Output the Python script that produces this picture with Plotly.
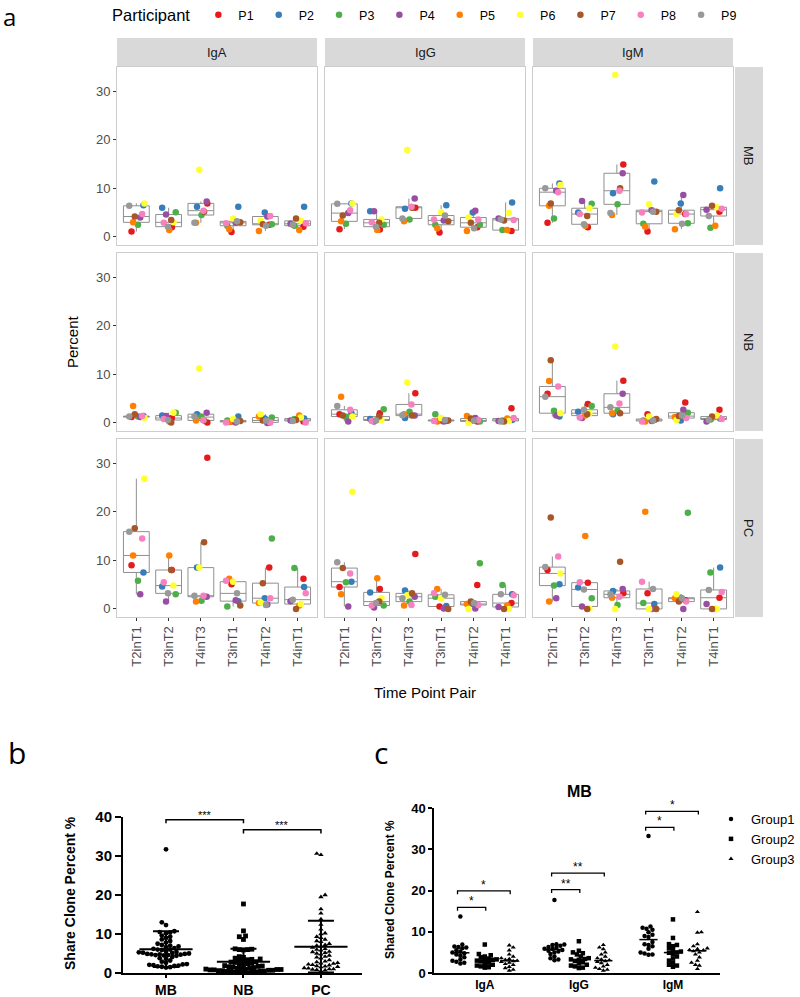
import numpy as np
import plotly.graph_objects as go

W, H = 800, 997
FONT = "Liberation Sans, Arial, sans-serif"

# ---------------- data: panel a ----------------
participants = ["P1", "P2", "P3", "P4", "P5", "P6", "P7", "P8", "P9"]
colors = ["#E41A1C", "#377EB8", "#4DAF4A", "#984EA3", "#FF7F00",
          "#FFFF33", "#A65628", "#F781BF", "#999999"]
pairs = ["T2inT1", "T3inT2", "T4inT3", "T3inT1", "T4inT2", "T4inT1"]
isotypes = ["IgA", "IgG", "IgM"]
cell_types = ["MB", "NB", "PC"]

# each row = one time point pair, columns = P1..P9
MB_IgA = [[1.1, 6.5, 2.5, 4.0, 3.0, 6.9, 4.2, 4.7, 6.4],
          [2.0, 6.0, 5.1, 4.6, 1.4, 3.0, 3.5, 2.9, 2.1],
          [6.9, 6.2, 4.5, 7.3, 2.9, 13.8, 5.2, 5.4, 2.9],
          [1.0, 6.2, 2.3, 2.9, 1.6, 3.8, 3.0, 2.8, 3.2],
          [2.5, 5.0, 2.6, 4.2, 1.2, 3.3, 2.6, 4.3, 2.3],
          [2.1, 6.2, 2.3, 2.7, 1.4, 3.3, 3.8, 2.8, 2.5]]
MB_IgG = [[1.6, 6.9, 2.7, 4.9, 3.2, 6.9, 4.4, 5.5, 6.8],
          [1.5, 5.3, 2.5, 5.3, 1.4, 3.6, 2.9, 3.0, 2.1],
          [6.0, 5.8, 3.6, 7.9, 3.2, 17.9, 6.0, 6.2, 3.8],
          [0.9, 6.5, 2.5, 3.4, 1.8, 5.1, 3.2, 3.6, 4.4],
          [2.0, 5.0, 2.5, 5.4, 1.2, 4.0, 2.9, 3.6, 1.8],
          [1.2, 7.1, 1.4, 3.8, 1.4, 4.9, 3.4, 3.5, 3.6]]
MB_IgM = [[2.9, 11.0, 3.8, 9.5, 6.4, 10.7, 6.9, 9.2, 10.0],
          [2.0, 5.0, 6.8, 7.4, 2.3, 5.9, 4.3, 4.7, 2.6],
          [14.9, 9.0, 6.7, 13.1, 4.5, 33.3, 10.0, 9.5, 4.9],
          [1.1, 11.4, 2.7, 5.5, 2.1, 6.7, 5.2, 5.0, 5.2],
          [4.7, 6.9, 2.8, 8.6, 1.6, 4.7, 5.5, 4.7, 2.7],
          [5.2, 10.0, 1.9, 5.6, 2.3, 6.1, 6.4, 5.8, 4.3]]
NB_IgA = [[1.2, 1.4, 1.3, 1.2, 3.5, 1.0, 1.8, 1.4, 1.3],
          [1.0, 1.5, 2.1, 1.4, 0.3, 2.1, 0.1, 0.8, 0.6],
          [0.1, 1.8, 1.2, 2.1, 0.5, 11.2, 0.5, 0.6, 1.3],
          [0.3, 1.3, 0.5, 0.1, 0.2, 0.8, 0.4, 0.1, 0.3],
          [0.1, 0.9, 1.1, 0.0, 1.3, 1.8, 0.5, 0.1, 0.5],
          [0.3, 0.9, 0.8, 0.5, 1.5, 1.1, 0.6, 0.1, 0.4]]
NB_IgG = [[1.8, 2.0, 1.2, 0.3, 5.4, 1.3, 1.5, 2.7, 3.5],
          [2.0, 0.8, 2.8, 0.3, 0.7, 0.6, 1.3, 0.4, 0.5],
          [6.1, 1.0, 2.3, 1.5, 1.8, 8.3, 1.5, 3.8, 1.6],
          [0.5, 0.4, 1.8, 0.3, 0.3, 1.0, 0.5, 0.4, 0.6],
          [0.3, 0.5, 0.3, 1.0, 1.4, 0.0, 0.9, 0.6, 0.5],
          [3.0, 0.6, 0.5, 0.4, 0.9, 0.4, 0.3, 1.0, 0.3]]
NB_IgM = [[6.0, 1.3, 2.5, 1.5, 8.6, 2.0, 12.9, 7.5, 5.4],
          [3.9, 2.3, 3.5, 1.0, 1.5, 2.0, 1.8, 1.1, 2.7],
          [8.7, 1.8, 2.5, 6.0, 2.0, 15.7, 2.0, 4.0, 3.2],
          [1.8, 0.6, 0.5, 0.4, 0.3, 1.3, 0.8, 0.3, 0.5],
          [4.2, 0.5, 2.1, 2.7, 1.2, 0.6, 1.4, 1.0, 1.5],
          [2.7, 0.9, 0.7, 0.3, 1.2, 1.5, 1.3, 0.8, 0.6]]
PC_IgA = [[9.0, 7.5, 5.8, 3.0, 11.0, 26.8, 16.6, 14.5, 15.9],
          [8.0, 4.6, 3.0, 1.5, 11.0, 4.8, 8.0, 5.5, 3.2],
          [31.1, 8.5, 1.7, 2.5, 1.5, 8.5, 13.7, 2.7, 2.7],
          [5.1, 1.6, 0.5, 1.8, 6.2, 5.6, 0.7, 5.8, 3.2],
          [8.5, 2.2, 14.5, 0.9, 1.2, 1.3, 5.3, 2.2, 0.8],
          [6.2, 4.5, 8.4, 1.6, 0.7, 1.0, 0.0, 3.2, 1.9]]
PC_IgG = [[4.5, 5.6, 5.5, 0.5, 3.0, 24.1, 8.4, 7.3, 9.6],
          [4.1, 3.4, 0.7, 0.3, 6.3, 2.2, 1.5, 0.7, 1.2],
          [11.3, 3.8, 1.5, 2.5, 0.7, 2.8, 3.2, 0.8, 2.2],
          [0.5, 0.6, 2.5, 0.1, 4.1, 2.2, 0.0, 3.2, 2.9],
          [4.9, 1.0, 9.4, 0.1, 1.0, 0.0, 1.5, 0.8, 1.2],
          [1.2, 3.0, 4.9, 0.4, 0.7, 0.0, 0.0, 2.8, 3.0]]
PC_IgM = [[8.0, 5.1, 4.8, 2.2, 1.5, 7.3, 18.8, 10.8, 8.6],
          [5.4, 4.4, 2.2, 0.5, 15.0, 0.1, 0.0, 5.5, 4.0],
          [3.2, 3.7, 0.8, 4.1, 2.3, 0.0, 9.7, 2.5, 3.0],
          [3.2, 1.0, 1.2, 0.0, 20.0, 0.0, 0.0, 5.6, 4.1],
          [1.8, 2.3, 19.8, 0.0, 2.2, 3.0, 1.5, 1.5, 2.2],
          [2.3, 8.5, 7.5, 1.0, 0.0, 0.0, 0.0, 3.5, 3.9]]

# ---------------- data: panel b ----------------
b_categories = ["MB", "NB", "PC"]
b_MB = [31.7, 13.0, 12.3, 10.7, 10.5, 10.4, 10.2, 9.6, 9.3, 9.0,
        8.6, 8.2, 7.8, 7.5, 7.2, 7.0, 6.8, 6.6, 6.4, 6.2,
        6.0, 6.0, 5.9, 5.6, 5.4, 5.2, 5.0, 4.9, 4.9, 4.8,
        4.8, 4.7, 4.6, 4.6, 4.5, 4.4, 4.1, 3.8, 3.6, 3.2,
        2.9, 2.6, 2.3, 2.2, 2.1, 2.0, 1.9, 1.8, 1.7, 1.6,
        1.5, 1.4, 5.3, 5.1]
b_NB = [17.7, 10.8, 9.5, 9.3, 8.6, 6.2, 6.1, 6.0, 6.0, 5.9,
        4.2, 4.0, 3.8, 3.6, 3.5, 3.4, 3.2, 3.0, 2.9, 2.8,
        2.7, 2.5, 2.4, 2.2, 2.0, 1.9, 1.8, 1.7, 1.6, 1.5,
        1.4, 1.3, 1.2, 1.1, 1.0, 1.0, 0.9, 0.9, 0.8, 0.8,
        0.7, 0.7, 0.6, 0.6, 0.5, 0.5, 0.4, 0.4, 0.3, 0.3,
        0.2, 0.2, 0.1, 0.1]
b_PC = [30.6, 30.3, 20.0, 19.5, 16.4, 15.3, 13.8, 12.4, 11.2, 10.2,
        10.0, 9.3, 9.0, 8.6, 8.2, 8.0, 7.5, 7.2, 6.8, 6.2,
        6.0, 5.8, 5.4, 5.2, 5.0, 4.8, 4.2, 4.0, 3.8, 3.3,
        3.0, 2.8, 2.6, 2.5, 2.4, 2.2, 2.1, 2.0, 1.8, 1.7,
        1.6, 1.5, 1.3, 1.2, 1.0, 1.0, 0.9, 0.8, 0.7, 0.5,
        4.5, 5.5, 6.5, 7.0]
b_sig = [("MB", "NB", 39.3, "***"), ("NB", "PC", 36.7, "***")]

# ---------------- data: panel c ----------------
c_isotypes = ["IgA", "IgG", "IgM"]
c_groups = ["Group1", "Group2", "Group3"]
c_IgA_G1 = [13.7, 6.9, 6.4, 6.3, 6.2, 6.0, 5.5, 5.2, 5.0, 4.8, 4.5, 4.2, 3.8, 3.3, 3.0, 2.7, 2.5, 2.3]
c_IgA_G2 = [6.9, 4.6, 4.3, 4.0, 3.8, 3.5, 3.3, 3.2, 3.1, 3.0, 2.8, 2.5, 2.2, 2.0, 1.8, 1.6, 1.4, 1.3]
c_IgA_G3 = [6.7, 6.2, 5.5, 4.5, 4.0, 3.6, 3.4, 3.2, 3.0, 2.9, 2.7, 2.5, 2.2, 2.0, 1.5, 1.2, 0.8, 0.6]
c_IgG_G1 = [17.7, 7.0, 6.9, 6.8, 6.6, 6.3, 6.1, 5.9, 5.8, 5.6, 5.4, 5.2, 5.0, 4.6, 4.0, 3.6, 3.3, 3.1]
c_IgG_G2 = [7.7, 5.4, 5.0, 4.8, 4.5, 4.0, 3.6, 3.4, 3.3, 3.2, 2.9, 2.6, 2.3, 2.0, 1.8, 1.6, 1.3, 1.2]
c_IgG_G3 = [6.8, 6.2, 5.8, 5.0, 4.5, 4.0, 3.6, 3.3, 3.1, 2.9, 2.7, 2.4, 2.0, 1.6, 1.3, 1.0, 0.8, 0.6]
c_IgM_G1 = [33.2, 11.3, 11.0, 10.7, 10.5, 9.9, 9.3, 9.0, 8.7, 7.5, 7.0, 6.8, 6.5, 5.9, 5.0, 4.7, 4.5, 4.4]
c_IgM_G2 = [13.0, 8.5, 7.0, 6.8, 6.5, 6.0, 5.6, 5.2, 5.0, 4.9, 4.5, 4.0, 3.5, 3.0, 2.5, 2.0, 1.8, 1.5]
c_IgM_G3 = [14.8, 9.9, 9.8, 7.0, 6.5, 6.0, 5.8, 5.6, 5.5, 5.3, 5.0, 4.5, 3.8, 3.0, 2.5, 2.0, 1.8, 1.0]
c_sig = [("IgA", 0, 1, 15.9, "*"), ("IgA", 0, 2, 19.9, "*"),
         ("IgG", 0, 1, 20.2, "**"), ("IgG", 0, 2, 24.2, "**"),
         ("IgM", 0, 1, 35.3, "*"), ("IgM", 0, 2, 39.2, "*")]

# ---------------- layout helpers ----------------
JIT = [[-0.15, 0.10, 0.20, -0.05, 0.12, 0.18],
       [0.22, -0.20, -0.12, 0.16, -0.02, 0.20],
       [0.05, 0.22, 0.02, -0.18, 0.20, -0.10],
       [0.12, -0.08, 0.18, 0.08, 0.06, -0.22],
       [-0.10, 0.02, -0.15, -0.12, -0.20, 0.05],
       [0.25, 0.15, -0.05, 0.00, -0.15, 0.10],
       [-0.05, 0.08, 0.10, 0.22, -0.08, -0.05],
       [0.18, -0.15, 0.08, -0.22, 0.15, 0.25],
       [-0.22, -0.02, -0.20, 0.12, 0.02, -0.15]]


def xdom(a, b):
    return [a / W, b / W]


def ydom(top, bottom):
    return [1 - bottom / H, 1 - top / H]


def box_stats(v):
    v = np.asarray(v, float)
    q1, med, q3 = np.percentile(v, [25, 50, 75])
    iqr = q3 - q1
    lo = v[v >= q1 - 1.5 * iqr].min()
    hi = v[v <= q3 + 1.5 * iqr].max()
    return q1, med, q3, lo, hi


def swarm(vals, ypu, xpu, d):
    vals = np.asarray(vals, float)
    order = np.argsort(vals, kind="stable")
    placed = []
    off = np.zeros(len(vals))
    s = d * 0.55
    flip = True
    for i in order:
        y = vals[i] * ypu

        def free(x):
            return all((x - px) ** 2 + (y - py) ** 2 >= d * d for px, py in placed)
        if free(0.0):
            x = 0.0
        else:
            k = 1
            while True:
                a, b = k * s, -k * s
                fa, fb = free(a), free(b)
                if fa and fb:
                    x = a if flip else b
                    flip = not flip
                    break
                if fa:
                    x = a
                    break
                if fb:
                    x = b
                    break
                k += 1
        placed.append((x, y))
        off[i] = x / xpu
    return off


def axname(k, kind):
    return kind if k == 1 else f"{kind}{k}"


def ptext(text, px, py, size, angle=0, family=None, color="black", xanchor="center"):
    f = dict(size=size, color=color)
    if family:
        f["family"] = family
    return dict(text=text, x=px / W, y=1 - py / H, xref="paper", yref="paper",
                showarrow=False, xanchor=xanchor, yanchor="middle", textangle=angle,
                font=f)


fig = go.Figure()
layout = dict(width=W, height=H, margin=dict(l=0, r=0, t=0, b=0, autoexpand=False),
              paper_bgcolor="white", plot_bgcolor="white",
              font=dict(family=FONT, color="black"))
shapes, annotations = [], []

# ---------------- panel a ----------------
COLS = [(117, 317), (325, 525), (533, 733)]
ROWS = [(67, 245), (253, 431), (439, 617)]
data_a = {("MB", "IgA"): MB_IgA, ("MB", "IgG"): MB_IgG, ("MB", "IgM"): MB_IgM,
          ("NB", "IgA"): NB_IgA, ("NB", "IgG"): NB_IgG, ("NB", "IgM"): NB_IgM,
          ("PC", "IgA"): PC_IgA, ("PC", "IgG"): PC_IgG, ("PC", "IgM"): PC_IgM}
allv = np.concatenate([np.ravel(v) for v in data_a.values()])
span = allv.max() - allv.min()
yr_a = [allv.min() - 0.05 * span, allv.max() + 0.05 * span]
BORDER = "#CDCDCD"
xpos = list(range(1, len(pairs) + 1))

for r, ct in enumerate(cell_types):
    for c, iso in enumerate(isotypes):
        k = r * 3 + c + 1
        xa, ya = axname(k, "x"), axname(k, "y")
        vals = data_a[(ct, iso)]
        st = np.array([box_stats(v) for v in vals])
        fig.add_trace(go.Box(x=xpos, q1=st[:, 0], median=st[:, 1], q3=st[:, 2],
                             lowerfence=st[:, 3], upperfence=st[:, 4],
                             width=0.8, fillcolor="white", whiskerwidth=0,
                             line=dict(color="#8F8F8F", width=1), boxpoints=False,
                             showlegend=False, hoverinfo="skip", xaxis=xa, yaxis=ya))
        for p in range(len(participants)):
            fig.add_trace(go.Scatter(
                x=[xpos[i] + JIT[p][i] for i in range(len(pairs))],
                y=[vals[i][p] for i in range(len(pairs))],
                mode="markers", name=participants[p], legendgroup=participants[p],
                showlegend=(k == 1), legend="legend",
                marker=dict(size=6.5, color=colors[p], line=dict(width=0)),
                xaxis=xa, yaxis=ya))
        layout["xaxis" if k == 1 else f"xaxis{k}"] = dict(
            domain=xdom(*COLS[c]), range=[0.4, 6.6], anchor=ya,
            showgrid=False, zeroline=False, showline=True, mirror=True,
            linecolor=BORDER, linewidth=1, tickvals=xpos, ticktext=pairs,
            showticklabels=(r == 2), ticks="outside" if r == 2 else "",
            ticklen=3, tickcolor="#333333", tickangle=-90,
            tickfont=dict(size=13, color="#4D4D4D"))
        layout["yaxis" if k == 1 else f"yaxis{k}"] = dict(
            domain=ydom(*ROWS[r]), range=yr_a, anchor=xa,
            showgrid=False, zeroline=False, showline=True, mirror=True,
            linecolor=BORDER, linewidth=1, tickvals=[0, 10, 20, 30],
            showticklabels=(c == 0), ticks="outside" if c == 0 else "",
            ticklen=3, tickcolor="#333333",
            tickfont=dict(size=13, color="#4D4D4D"))

STRIP = "#D9D9D9"
for c, iso in enumerate(isotypes):
    x0, x1 = COLS[c]
    shapes.append(dict(type="rect", xref="paper", yref="paper", x0=x0 / W, x1=x1 / W,
                       y0=1 - 67 / H, y1=1 - 38 / H, fillcolor=STRIP, line=dict(width=0),
                       layer="below"))
    annotations.append(ptext(iso, (x0 + x1) / 2, 52.5, 13, color="#1A1A1A"))
for r, ct in enumerate(cell_types):
    y0, y1 = ROWS[r]
    shapes.append(dict(type="rect", xref="paper", yref="paper", x0=735 / W, x1=763 / W,
                       y0=1 - y1 / H, y1=1 - y0 / H, fillcolor=STRIP, line=dict(width=0),
                       layer="below"))
    annotations.append(ptext(ct, 749, (y0 + y1) / 2, 13, angle=90, color="#1A1A1A"))

annotations += [
    ptext("a", 9.5, 17, 24, family="Open Sans"),
    ptext("Percent", 72, 342, 15, angle=-90),
    ptext("Time Point Pair", 425, 692, 15),
]

layout["legend"] = dict(orientation="h", x=110 / W, y=1 - 16 / H, xanchor="left",
                        yanchor="middle", font=dict(size=12.5), itemwidth=30,
                        title=dict(text="Participant", font=dict(size=16.5), side="left"),
                        bgcolor="rgba(0,0,0,0)", traceorder="normal")

# ---------------- panel b ----------------
b_sym = ["circle", "square", "triangle-up"]
b_vals = [b_MB, b_NB, b_PC]
B_X0, B_X1, B_Y0, B_Y1 = 123, 362, 817, 973
b_xr = [-0.555, 2.53]
b_xpu = (B_X1 - B_X0) / (b_xr[1] - b_xr[0])
b_ypu = (B_Y1 - B_Y0) / 40
for i, cat in enumerate(b_categories):
    v = np.asarray(b_vals[i], float)
    off = swarm(v, b_ypu, b_xpu, 3.8)
    fig.add_trace(go.Scatter(x=i + off, y=v, mode="markers", showlegend=False,
                             marker=dict(symbol=b_sym[i], size=4.8, color="black",
                                         line=dict(width=0)),
                             cliponaxis=False, xaxis="x10", yaxis="y10"))
    fig.add_trace(go.Scatter(x=[i], y=[v.mean()], mode="markers", showlegend=False,
                             marker=dict(symbol="line-ew", size=38,
                                         line=dict(width=2, color="black")),
                             error_y=dict(type="data", array=[v.std(ddof=1)],
                                          color="black", thickness=2, width=13),
                             xaxis="x10", yaxis="y10"))
layout["xaxis10"] = dict(domain=xdom(B_X0, B_X1), range=b_xr, anchor="y10",
                         showgrid=False, zeroline=False, showline=True, linecolor="black",
                         linewidth=2, tickvals=[0, 1, 2], ticktext=b_categories,
                         ticks="outside", ticklen=3, tickwidth=2, tickcolor="black",
                         tickfont=dict(size=14, weight="bold", color="black"))
layout["yaxis10"] = dict(domain=ydom(B_Y0, B_Y1), range=[0, 40], anchor="x10",
                         showgrid=False, zeroline=False, showline=True, linecolor="black",
                         linewidth=2, tickvals=[0, 10, 20, 30, 40], ticks="outside",
                         ticklen=6, tickwidth=2, tickcolor="black",
                         tickfont=dict(size=15, weight="bold", color="black"))
for a, b, yv, txt in b_sig:
    x0, x1 = b_categories.index(a), b_categories.index(b)
    shapes.append(dict(type="path", xref="x10", yref="y10",
                       path=f"M {x0},{yv - 0.9} L {x0},{yv} L {x1},{yv} L {x1},{yv - 0.9}",
                       line=dict(color="black", width=1.5)))
    annotations.append(dict(text=txt, x=(x0 + x1) / 2, y=yv, xref="x10", yref="y10",
                            showarrow=False, xanchor="center", yanchor="bottom", yshift=-3,
                            font=dict(size=11)))
annotations += [
    ptext("b", 6, 752, 30, family="Open Sans", xanchor="left"),
    ptext("<b>Share Clone Percent %</b>", 70, 893, 14, angle=-90),
]

# ---------------- panel c ----------------
c_data = {("IgA", 0): c_IgA_G1, ("IgA", 1): c_IgA_G2, ("IgA", 2): c_IgA_G3,
          ("IgG", 0): c_IgG_G1, ("IgG", 1): c_IgG_G2, ("IgG", 2): c_IgG_G3,
          ("IgM", 0): c_IgM_G1, ("IgM", 1): c_IgM_G2, ("IgM", 2): c_IgM_G3}
C_X0, C_X1, C_Y0, C_Y1 = 434, 720, 808, 973
c_xr = [-0.54, 2.5]
c_xpu = (C_X1 - C_X0) / (c_xr[1] - c_xr[0])
c_ypu = (C_Y1 - C_Y0) / 40
GOFF = 0.26
for i, iso in enumerate(c_isotypes):
    for g, grp in enumerate(c_groups):
        v = np.asarray(c_data[(iso, g)], float)
        off = swarm(v, c_ypu, c_xpu, 3.6)
        cx = i + (g - 1) * GOFF
        fig.add_trace(go.Scatter(x=cx + off, y=v, mode="markers", name=grp,
                                 legend="legend2", showlegend=(i == 0),
                                 marker=dict(symbol=b_sym[g], size=4.5, color="black",
                                             line=dict(width=0)),
                                 cliponaxis=False, xaxis="x11", yaxis="y11"))
        fig.add_trace(go.Scatter(x=[cx], y=[np.median(v)], mode="markers",
                                 showlegend=False,
                                 marker=dict(symbol="line-ew", size=13,
                                             line=dict(width=1.5, color="black")),
                                 xaxis="x11", yaxis="y11"))
layout["xaxis11"] = dict(domain=xdom(C_X0, C_X1), range=c_xr, anchor="y11",
                         showgrid=False, zeroline=False, showline=True, linecolor="black",
                         linewidth=1.5, tickvals=[0, 1, 2], ticktext=c_isotypes, ticks="",
                         tickfont=dict(size=12, weight="bold", color="black"))
layout["yaxis11"] = dict(domain=ydom(C_Y0, C_Y1), range=[0, 40], anchor="x11",
                         showgrid=False, zeroline=False, showline=True, linecolor="black",
                         linewidth=1.5, tickvals=[0, 10, 20, 30, 40], ticks="outside",
                         ticklen=4, tickwidth=1.5, tickcolor="black",
                         tickfont=dict(size=13, weight="bold", color="black"))
for iso, g0, g1, yv, txt in c_sig:
    i = c_isotypes.index(iso)
    x0 = i + (g0 - 1) * GOFF - 0.03
    x1 = i + (g1 - 1) * GOFF + 0.01
    shapes.append(dict(type="path", xref="x11", yref="y11",
                       path=f"M {x0},{yv - 0.8} L {x0},{yv} L {x1},{yv} L {x1},{yv - 0.8}",
                       line=dict(color="black", width=1.3)))
    annotations.append(dict(text=txt, x=(x0 + x1) / 2, y=yv, xref="x11", yref="y11",
                            showarrow=False, xanchor="center", yanchor="bottom", yshift=-3,
                            font=dict(size=12)))
annotations += [
    ptext("c", 372, 752, 30, family="Open Sans", xanchor="left"),
    ptext("<b>MB</b>", 579, 791, 16),
    ptext("<b>Shared Clone Percent %</b>", 390, 890, 12, angle=-90),
]
layout["legend2"] = dict(x=1.0, y=1 - 804 / H, xanchor="right", yanchor="top",
                         font=dict(size=13), bgcolor="rgba(0,0,0,0)",
                         tracegroupgap=0)

layout["shapes"] = shapes
layout["annotations"] = annotations
fig.update_layout(**layout)
fig.write_html("out.html", config={"displayModeBar": False},
               post_script="document.body.style.margin='0';document.body.style.overflow='hidden';")
